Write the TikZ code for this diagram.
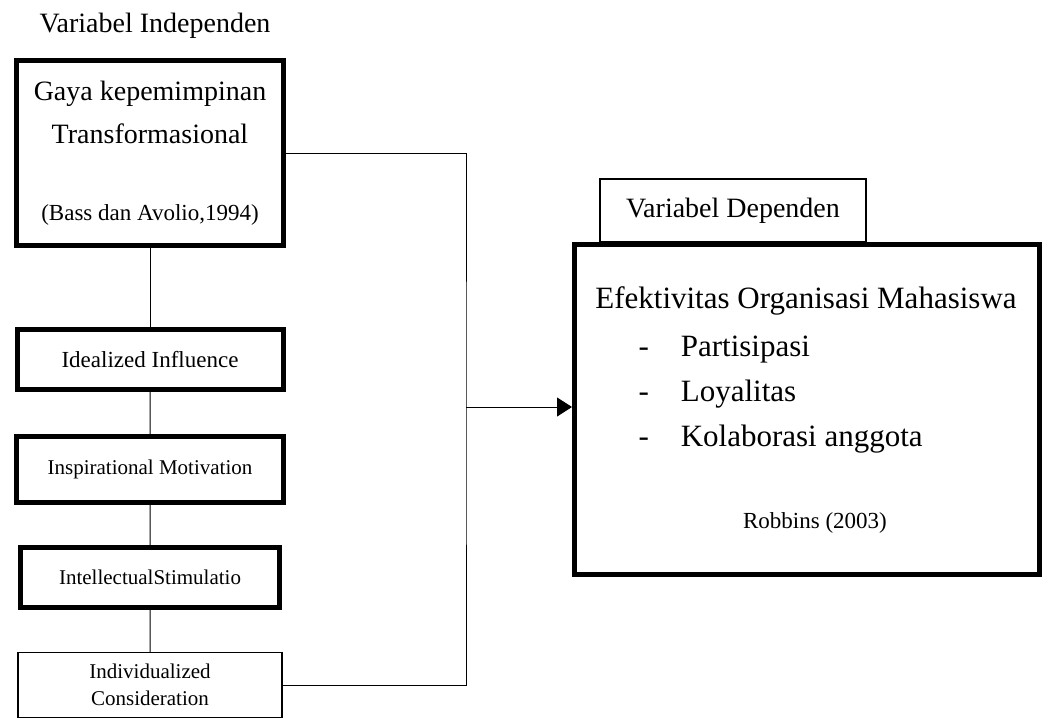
\documentclass[tikz,border=0pt]{standalone}
\usepackage{fontspec}
\setmainfont{Liberation Serif}
\usetikzlibrary{arrows.meta}

\begin{document}
\begin{tikzpicture}
      [x=1pt,y=-1pt,line width=1pt,
       level 1/.style={level distance=206.5pt},
       level 2/.style={level distance=110pt},
       level 3/.style={level distance=108pt},
       level 4/.style={level distance=107.5pt},
       edge from parent/.style={draw,line width=1pt}]
      \tikzstyle{box}=[draw,line width=5pt,inner sep=0pt,align=center]
      \tikzstyle{thinbox}=[draw,line width=1.2pt,inner sep=0pt,align=center]
      \tikzstyle{big}=[font=\fontsize{28}{43}\selectfont]
      \tikzstyle{small}=[font=\fontsize{21}{27}\selectfont]
      \useasboundingbox (0,0) rectangle (1044,720);
      \node[big] (judul) at (155,26) {Variabel Independen};
      \node[box,big,minimum width=267pt,minimum height=185pt] (gaya) at (150,153)
        {\rule{0pt}{6pt}Gaya kepemimpinan\\Transformasional\\[34pt]{\fontsize{23}{26}\selectfont(Bass dan Avolio,1994)}}
      child{
        node[box,font=\fontsize{23}{27}\selectfont,minimum width=266pt,minimum height=60pt] (ideal) {Idealized Influence}
        child{
          node[box,small,minimum width=267pt,minimum height=66pt] (inspi) {Inspirational Motivation}
          child{
            node[box,small,minimum width=259pt,minimum height=60pt] (intel) {IntellectualStimulatio}
            child{
              node[thinbox,small,minimum width=264pt,minimum height=65pt] (indiv) {Individualized\\Consideration}
            }
          }
        }
      };
      % variabel dependen
      \node[thinbox,big,minimum width=266pt,minimum height=63pt] (tab) at (733,210.5) {Variabel Dependen};
      \node[box,minimum width=465pt,minimum height=330pt] (dep) at (807,409.5) {};
      \node[font=\fontsize{31}{45}\selectfont] (efek) at (806,301) {Efektivitas Organisasi Mahasiswa};
      \node[font=\fontsize{31}{45}\selectfont,anchor=west,inner sep=0pt] (indikator) at (638,392)
        {\begin{tabular}{@{}l@{\hspace{32pt}}l@{}}-&Partisipasi\\-&Loyalitas\\-&Kolaborasi anggota\end{tabular}};
      \node[font=\fontsize{23}{28}\selectfont] (sumber) at (815,523) {Robbins (2003)};
      % penghubung
      \coordinate (bus) at (466,407);
      \draw (gaya.east) -| (bus) |- (indiv.east);
      \draw[-{Triangle[length=15pt,width=19pt]}] (bus) -- (bus -| dep.west);
    \end{tikzpicture}
\end{document}
